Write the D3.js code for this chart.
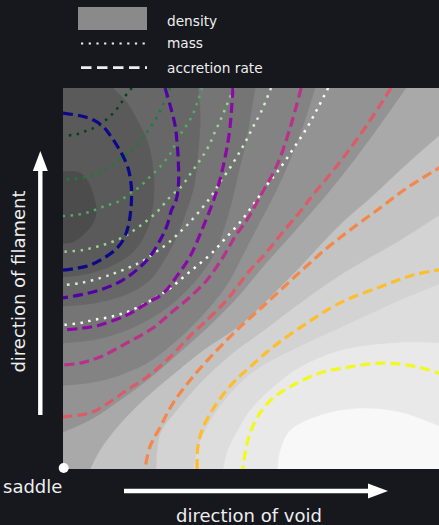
<!DOCTYPE html>
<html>
<head>
<meta charset="utf-8">
<script src="https://cdn.jsdelivr.net/npm/d3@7"></script>
<style>
  html, body { margin: 0; padding: 0; background: #16181e; overflow: hidden; }
  text { font-family: "DejaVu Sans", sans-serif; }
</style>
</head>
<body>
<svg id="chart" width="439" height="525"></svg>
<script>
// Fields around a cosmic-web saddle, in unit coordinates:
// x runs along the direction of the void, y along the direction of the filament.

// Density: iso-density boundaries, outermost (lightest) first.
const dens10 = [[1.0,0.108],[0.885,0.150],[0.780,0.160],[0.675,0.142],[0.596,0.102],[0.570,0.050],[0.562,0]];
const dens9  = [[1.0,0.331],[0.885,0.333],[0.727,0.312],[0.622,0.268],[0.551,0.215],[0.491,0.155],[0.451,0.089],[0.430,0.045],[0.420,0]];
const dens8  = [[1.0,0.491],[0.885,0.444],[0.753,0.383],[0.622,0.323],[0.517,0.268],[0.465,0.226],[0.404,0.155],[0.360,0.076],[0.341,0]];
const dens7  = [[1.0,0.675],[0.885,0.601],[0.806,0.556],[0.727,0.509],[0.622,0.436],[0.517,0.357],[0.446,0.305],[0.360,0.226],[0.299,0.155],[0.255,0.094],[0.244,0]];
const dens6  = [[1.0,0.887],[0.937,0.832],[0.871,0.772],[0.806,0.711],[0.740,0.654],[0.675,0.588],[0.614,0.522],[0.543,0.451],[0.465,0.378],[0.368,0.312],[0.281,0.242],[0.202,0.173],[0.142,0.110],[0.097,0.050],[0.071,0]];
const dens5  = [[0.900,1.0],[0.835,0.908],[0.760,0.806],[0.684,0.711],[0.606,0.622],[0.528,0.535],[0.463,0.457],[0.386,0.378],[0.307,0.307],[0.228,0.239],[0.150,0.181],[0.071,0.129],[0,0.097]];
const dens4  = [[0.661,1.0],[0.635,0.916],[0.606,0.837],[0.575,0.764],[0.543,0.698],[0.512,0.640],[0.472,0.562],[0.433,0.488],[0.394,0.436],[0.341,0.378],[0.281,0.323],[0.220,0.278],[0.150,0.247],[0.079,0.228],[0,0.220]];
const dens3  = [[0.504,1.0],[0.491,0.921],[0.475,0.837],[0.459,0.772],[0.444,0.706],[0.425,0.640],[0.399,0.570],[0.360,0.509],[0.320,0.465],[0.289,0.436],[0.236,0.399],[0.168,0.365],[0.079,0.339],[0,0.331]];
const dens2  = [[0.354,1.0],[0.360,0.921],[0.354,0.832],[0.344,0.745],[0.323,0.675],[0.294,0.601],[0.262,0.543],[0.228,0.496],[0.168,0.459],[0.084,0.436],[0,0.428]];
const dens1  = [[0.131,1.0],[0.168,0.961],[0.197,0.911],[0.220,0.864],[0.234,0.806],[0.239,0.745],[0.234,0.680],[0.218,0.622],[0.186,0.572],[0.136,0.538],[0.071,0.514],[0,0.504]];
const dens0  = [[0,0.780],[0.045,0.777],[0.066,0.753],[0.079,0.719],[0.087,0.680],[0.079,0.646],[0.052,0.614],[0.026,0.596],[0,0.593]];
const densityBoundaries = [dens10, dens9, dens8, dens7, dens6, dens5, dens4, dens3, dens2, dens1, dens0];
// grey of the band just inside each boundary; the first entry is the void side
const densityGreys = ["#f8f8f8", "#e9e9e9", "#dddddd", "#d3d3d3", "#c3c3c3", "#a9a9a9",
                      "#939393", "#838383", "#757575", "#676767", "#5a5a5a", "#4c4c4c"];

// Mass: iso-mass contours, highest mass first.
const mass1 = [[0.181,1.0],[0.171,0.990],[0.158,0.969],[0.148,0.954],[0.134,0.936],[0.119,0.922],[0.102,0.907],[0.084,0.896],[0.066,0.890],[0.047,0.881],[0.026,0.877],[0,0.874]];
const mass2 = [[0.281,1.0],[0.262,0.955],[0.244,0.919],[0.218,0.882],[0.192,0.848],[0.157,0.819],[0.126,0.795],[0.087,0.774],[0.047,0.764],[0,0.759]];
const mass3 = [[0.365,1.0],[0.355,0.969],[0.338,0.925],[0.316,0.890],[0.302,0.869],[0.285,0.833],[0.259,0.798],[0.228,0.767],[0.198,0.738],[0.180,0.726],[0.145,0.702],[0.106,0.689],[0.071,0.675],[0.036,0.667],[0,0.664]];
const mass4 = [[0.449,1.0],[0.433,0.963],[0.417,0.924],[0.399,0.885],[0.381,0.845],[0.360,0.811],[0.336,0.777],[0.312,0.743],[0.281,0.714],[0.247,0.675],[0.202,0.638],[0.158,0.609],[0.105,0.588],[0.052,0.575],[0,0.570]];
const mass5 = [[0.546,1.0],[0.522,0.942],[0.499,0.898],[0.480,0.861],[0.459,0.824],[0.436,0.787],[0.412,0.753],[0.391,0.719],[0.365,0.685],[0.333,0.648],[0.307,0.622],[0.276,0.593],[0.244,0.570],[0.210,0.546],[0.176,0.530],[0.136,0.514],[0.097,0.501],[0.045,0.488],[0,0.483]];
const mass6 = [[0.696,1.0],[0.669,0.948],[0.640,0.895],[0.606,0.843],[0.570,0.790],[0.535,0.745],[0.501,0.696],[0.465,0.648],[0.425,0.604],[0.391,0.567],[0.354,0.535],[0.320,0.507],[0.286,0.478],[0.255,0.457],[0.223,0.438],[0.168,0.412],[0.123,0.399],[0.079,0.391],[0.045,0.383],[0,0.378]];
const massContours = [mass1, mass2, mass3, mass4, mass5, mass6];

// Accretion rate: iso-rate contours, lowest rate first.
const rate1 = [[0,0.934],[0.045,0.927],[0.080,0.916],[0.106,0.898],[0.123,0.877],[0.141,0.850],[0.158,0.820],[0.171,0.789],[0.178,0.754],[0.180,0.724],[0.178,0.680],[0.171,0.636],[0.158,0.601],[0.137,0.575],[0.106,0.553],[0.071,0.535],[0.036,0.527],[0,0.522]];
const rate2 = [[0.268,1.0],[0.281,0.955],[0.294,0.903],[0.300,0.850],[0.303,0.798],[0.303,0.745],[0.297,0.706],[0.285,0.680],[0.272,0.636],[0.255,0.601],[0.228,0.557],[0.193,0.522],[0.150,0.492],[0.097,0.470],[0.045,0.457],[0,0.449]];
const rate3 = [[0.446,1.0],[0.438,0.894],[0.425,0.816],[0.403,0.728],[0.368,0.636],[0.333,0.557],[0.298,0.505],[0.263,0.461],[0.220,0.435],[0.167,0.404],[0.097,0.378],[0.045,0.369],[0,0.365]];
const rate4 = [[0.625,1.0],[0.596,0.895],[0.562,0.798],[0.522,0.724],[0.486,0.659],[0.454,0.614],[0.420,0.556],[0.378,0.496],[0.333,0.451],[0.286,0.412],[0.236,0.370],[0.168,0.331],[0.097,0.294],[0.045,0.278],[0,0.273]];
const rate5 = [[0.861,1.0],[0.798,0.903],[0.727,0.806],[0.656,0.719],[0.622,0.675],[0.577,0.622],[0.530,0.564],[0.491,0.522],[0.430,0.444],[0.373,0.386],[0.341,0.357],[0.281,0.294],[0.220,0.241],[0.168,0.207],[0.123,0.176],[0.079,0.150],[0.045,0.142],[0,0.137]];
const rate6 = [[1.0,0.798],[0.903,0.738],[0.832,0.685],[0.761,0.633],[0.693,0.580],[0.622,0.517],[0.551,0.451],[0.517,0.420],[0.465,0.373],[0.404,0.312],[0.341,0.242],[0.289,0.173],[0.255,0.110],[0.228,0.058],[0.215,0]];
const rate7 = [[1.0,0.525],[0.919,0.509],[0.832,0.478],[0.727,0.436],[0.640,0.383],[0.551,0.320],[0.491,0.268],[0.446,0.226],[0.404,0.173],[0.368,0.110],[0.354,0.058],[0.352,0]];
const rate8 = [[1.0,0.247],[0.929,0.268],[0.840,0.278],[0.753,0.268],[0.675,0.252],[0.604,0.220],[0.551,0.186],[0.517,0.147],[0.491,0.094],[0.478,0.042],[0.472,0]];
const rateContours = [rate1, rate2, rate3, rate4, rate5, rate6, rate7, rate8];

const legendLabels = ["density", "mass", "accretion rate"];
const axisLabels = { origin: "saddle", horizontal: "direction of void", vertical: "direction of filament" };

// ---- layout ----
const W = 439, H = 525;
const plotLeft = 63, plotTop = 88, plotSize = 381;
const x = d3.scaleLinear().domain([0, 1]).range([plotLeft, plotLeft + plotSize]);
const y = d3.scaleLinear().domain([0, 1]).range([plotTop + plotSize, plotTop]);
const massColor = d3.scaleSequential(d3.interpolateGreens).domain([massContours.length - 1, 0]);
const rateColor = d3.scaleSequential(d3.interpolatePlasma).domain([0, rateContours.length - 1]);
const ink = "#eeeeee";

const svg = d3.select("#chart");
svg.append("rect").attr("width", W).attr("height", H).attr("fill", "#16181e");

svg.append("defs").append("clipPath").attr("id", "plot-clip")
  .append("rect")
  .attr("x", x(0)).attr("y", y(1))
  .attr("width", x(1) - x(0)).attr("height", y(0) - y(1));

const plot = svg.append("g").attr("clip-path", "url(#plot-clip)");

const smooth = d3.line()
  .x(d => x(d[0])).y(d => y(d[1]))
  .curve(d3.curveCatmullRom.alpha(0.5));

// Close a boundary on its dense (upper-left) side along the plot frame.
function bandPath(pts) {
  const first = pts[0], last = pts[pts.length - 1];
  const corners = [];
  if (!(first[0] === 0 && last[0] === 0)) {
    if (last[1] === 0) corners.push([0, 0]);
    corners.push([0, 1]);
    if (first[0] === 1) corners.push([1, 1]);
  }
  let d = smooth(pts);
  corners.forEach(c => { d += "L" + x(c[0]) + "," + y(c[1]); });
  return d + "Z";
}

// density bands
plot.append("rect")
  .attr("x", x(0)).attr("y", y(1))
  .attr("width", x(1) - x(0)).attr("height", y(0) - y(1))
  .attr("fill", densityGreys[0]);

plot.selectAll("path.band")
  .data(densityBoundaries)
  .join("path")
  .attr("class", "band")
  .attr("d", bandPath)
  .attr("fill", (d, i) => densityGreys[i + 1])
  .attr("stroke", (d, i) => densityGreys[i + 1])
  .attr("stroke-width", 0.6);

// mass contours (dotted)
plot.selectAll("path.mass")
  .data(massContours)
  .join("path")
  .attr("class", "mass")
  .attr("d", smooth)
  .attr("fill", "none")
  .attr("stroke", (d, i) => massColor(i))
  .attr("stroke-width", 2.5)
  .attr("stroke-dasharray", "2.5 5.5");

// accretion-rate contours (dashed)
plot.selectAll("path.rate")
  .data(rateContours)
  .join("path")
  .attr("class", "rate")
  .attr("d", smooth)
  .attr("fill", "none")
  .attr("stroke", (d, i) => rateColor(i))
  .attr("stroke-width", 3.2)
  .attr("stroke-dasharray", "10 5");

// saddle point
svg.append("circle")
  .attr("cx", x(0) + 0.7).attr("cy", y(0) - 1)
  .attr("r", 5).attr("fill", "#ffffff");

// ---- legend ----
const legend = svg.append("g");
const keyX0 = 78, keyX1 = 147, labelX = 167;
legend.append("rect")
  .attr("x", keyX0).attr("y", 7).attr("width", keyX1 - keyX0).attr("height", 23)
  .attr("fill", "#8a8a8a");
legend.append("line")
  .attr("x1", keyX0 + 3).attr("x2", keyX1).attr("y1", 43.5).attr("y2", 43.5)
  .attr("stroke", ink).attr("stroke-width", 2.2).attr("stroke-dasharray", "2.2 5.5");
legend.append("line")
  .attr("x1", keyX0 + 3).attr("x2", keyX1).attr("y1", 67.7).attr("y2", 67.7)
  .attr("stroke", ink).attr("stroke-width", 2.7).attr("stroke-dasharray", "10.5 5.5");
legend.selectAll("text")
  .data(legendLabels)
  .join("text")
  .attr("x", labelX)
  .attr("y", (d, i) => [26, 48, 72.5][i])
  .attr("fill", ink)
  .attr("font-size", 13.7)
  .text(d => d);

// ---- direction arrows and labels ----
const arrowHead = 20, arrowHalf = 7.5;

// along the void
const hy = 491, hx0 = 124, hx1 = 388;
svg.append("line")
  .attr("x1", hx0).attr("x2", hx1 - arrowHead + 1).attr("y1", hy).attr("y2", hy)
  .attr("stroke", "#ffffff").attr("stroke-width", 4.4);
svg.append("path")
  .attr("d", `M${hx1},${hy}L${hx1 - arrowHead},${hy - arrowHalf}L${hx1 - arrowHead},${hy + arrowHalf}Z`)
  .attr("fill", "#ffffff");

// along the filament
const vx = 40.3, vy0 = 415, vy1 = 151;
svg.append("line")
  .attr("x1", vx).attr("x2", vx).attr("y1", vy0).attr("y2", vy1 + arrowHead - 1)
  .attr("stroke", "#ffffff").attr("stroke-width", 4.4);
svg.append("path")
  .attr("d", `M${vx},${vy1}L${vx - arrowHalf},${vy1 + arrowHead}L${vx + arrowHalf},${vy1 + arrowHead}Z`)
  .attr("fill", "#ffffff");

svg.append("text")
  .attr("x", 3).attr("y", 493)
  .attr("fill", ink).attr("font-size", 18)
  .text(axisLabels.origin);

svg.append("text")
  .attr("x", 249).attr("y", 522)
  .attr("text-anchor", "middle")
  .attr("fill", ink).attr("font-size", 18)
  .text(axisLabels.horizontal);

svg.append("text")
  .attr("transform", "translate(25,281.5) rotate(-90)")
  .attr("text-anchor", "middle")
  .attr("fill", ink).attr("font-size", 18)
  .text(axisLabels.vertical);
</script>
</body>
</html>
